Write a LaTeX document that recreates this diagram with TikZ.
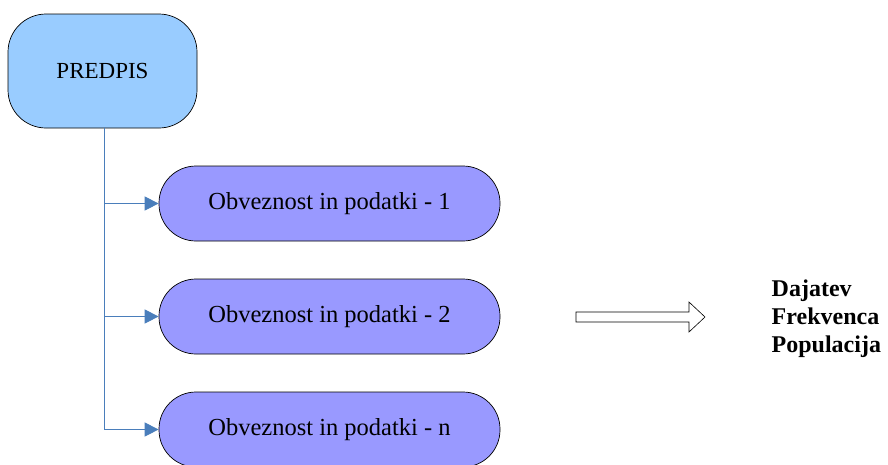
\documentclass[tikz,border=0pt]{standalone}
\usepackage{fontspec}
\setmainfont{Liberation Serif}
\usetikzlibrary{arrows.meta}
\definecolor{headblue}{HTML}{99CCFF}
\definecolor{itemviolet}{HTML}{9999FF}
\definecolor{linkblue}{HTML}{4A7EBB}
\begin{document}
\begin{tikzpicture}[x=1pt,y=-1pt,
  headbox/.style={draw=black, line width=0.7pt, fill=headblue, rounded corners=38pt,
    minimum width=189pt, minimum height=114pt, inner sep=0pt, font=\fontsize{23}{27}\selectfont},
  itembox/.style={draw=black, line width=0.7pt, fill=itemviolet, rounded corners=37pt,
    minimum width=341pt, minimum height=75pt, inner sep=0pt, font=\fontsize{24.5}{28}\selectfont},
  link/.style={draw=linkblue, line width=0.9pt, -{Triangle[length=14pt,width=14pt,fill=linkblue]}},
  outlabel/.style={align=left, anchor=north west, inner sep=0pt,
    font=\bfseries\fontsize{24}{28}\selectfont}]
\useasboundingbox (0,0) rectangle (888,464);
\begin{scope}
\clip (0,0) rectangle (888,464);
\node[headbox] (pre) at (102.5,71) {PREDPIS};
\node[itembox] (o1) at (329.5,203.5) {Obveznost in podatki - 1};
\node[itembox] (o2) at (329.5,316.5) {Obveznost in podatki - 2};
\node[itembox] (on) at (329.5,429.5) {Obveznost in podatki - n};
\end{scope}
% trunk from the header box and branches to each item
\coordinate (b1) at (104,203.5);
\coordinate (b2) at (104,316.5);
\coordinate (bn) at (104,429.5);
\draw[draw=linkblue, line width=0.9pt] (pre.south -| b1) -- (bn);
\draw[link] (b1) -- (o1.west);
\draw[link] (b2) -- (o2.west);
\draw[link] (bn) -- (on.west);
% block arrow towards the output list
\node[outlabel] (out) at (771.5,280) {Dajatev\\Frekvenca\\Populacija};
\draw[line width=0.6pt, fill=white]
  (576,312) -- (689,312) -- (689,302) -- (705,317) -- (689,332) -- (689,322) -- (576,322) -- cycle;
\end{tikzpicture}
\end{document}
